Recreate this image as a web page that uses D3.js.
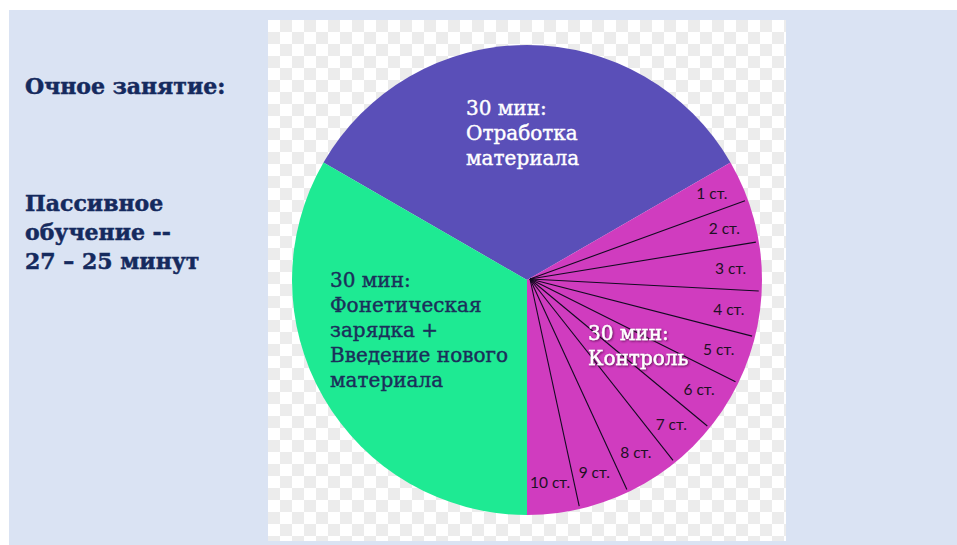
<!DOCTYPE html>
<html><head><meta charset="utf-8">
<script src="https://cdn.jsdelivr.net/npm/d3@7"></script>
<style>html,body{margin:0;padding:0;background:#fff;}svg{display:block;}</style>
</head><body>
<script>
// Data
const slices = ["Отработка материала", "Контроль", "Фонетическая зарядка + Введение нового материала"];
const sliceMinutes = [30, 30, 30];
const sliceColors = ["#5a4fb8", "#d03cbf", "#1eea93"];
const stations = ["1 ст.", "2 ст.", "3 ст.", "4 ст.", "5 ст.", "6 ст.", "7 ст.", "8 ст.", "9 ст.", "10 ст."];
const stationShares = [10, 10.6, 12.1, 11.3, 12, 13, 12, 13.5, 12.5, 13];
const purpleLabel = ["30 мин:", "Отработка", "материала"];
const magentaLabel = ["30 мин:", "Контроль"];
const greenLabel = ["30 мин:", "Фонетическая", "зарядка +", "Введение нового", "материала"];
const leftTitle = ["Очное занятие:"];
const leftText = ["Пассивное", "обучение --", "27 – 25 минут"];

const W = 957, H = 545;
const svg = d3.select("body").append("svg").attr("width", W).attr("height", H);

// background
svg.append("rect").attr("x", 9).attr("y", 10).attr("width", W - 9).attr("height", H - 10).attr("fill", "#dae3f3");

// checker panel
const px0 = 268, py0 = 20, px1 = 786, py1 = 541, cs = 12;
const defs = svg.append("defs");
const pat = defs.append("pattern").attr("id", "chk").attr("patternUnits", "userSpaceOnUse")
  .attr("x", px0).attr("y", py0).attr("width", cs * 2).attr("height", cs * 2);
pat.append("rect").attr("width", cs * 2).attr("height", cs * 2).attr("fill", "#ffffff");
pat.append("rect").attr("x", cs).attr("width", cs).attr("height", cs).attr("fill", "#ececec");
pat.append("rect").attr("y", cs).attr("width", cs).attr("height", cs).attr("fill", "#ececec");
svg.append("rect").attr("x", px0).attr("y", py0).attr("width", px1 - px0).attr("height", py1 - py0).attr("fill", "url(#chk)");

const cx = 527, cy = 280, R = 235;
const g = svg.append("g").attr("transform", `translate(${cx},${cy})`);

const pie = d3.pie().sort(null).value(d => d).startAngle(-Math.PI / 3).endAngle(-Math.PI / 3 + 2 * Math.PI);
const arcs = pie(sliceMinutes);
const arc = d3.arc().innerRadius(0).outerRadius(R);
g.selectAll("path.main").data(arcs).join("path").attr("class", "main")
  .attr("d", arc).attr("fill", (d, i) => sliceColors[i]);

// Left texts
const navy = "#152a5e";
function leftStyle(t) {
  t.attr("font-family", "DejaVu Serif").attr("font-weight", "bold").attr("font-size", 22)
    .attr("fill", navy).attr("stroke", navy).attr("stroke-width", 0.5);
}
svg.append("text").attr("x", 25).attr("y", 94).call(leftStyle).text(leftTitle[0]);
svg.selectAll("text.left").data(leftText).join("text").attr("class", "left")
  .attr("x", 25).attr("y", (d, i) => 211 + i * 29).call(leftStyle).text(d => d);

// Slice labels
function block(lines, x, y0, dy, color, extra) {
  const t = svg.append("text").attr("font-family", "DejaVu Serif").attr("font-size", 20)
    .attr("fill", color).attr("stroke", color).attr("stroke-width", 0.4);
  if (extra) extra(t);
  t.selectAll("tspan").data(lines).join("tspan")
    .attr("x", x).attr("y", (d, i) => y0 + i * dy).text(d => d);
}
block(purpleLabel, 466, 115, 25, "#ffffff");
block(greenLabel, 330, 287, 25, "#1b2f5a");
const shadow = defs.append("filter").attr("id", "sh").attr("x", "-10%").attr("y", "-20%").attr("width", "120%").attr("height", "140%");
shadow.append("feDropShadow").attr("dx", 1).attr("dy", 1).attr("stdDeviation", 0.8).attr("flood-color", "#4a0a40").attr("flood-opacity", 0.8);
block(magentaLabel, 588, 340, 25, "#ffffff", t => t.attr("filter", "url(#sh)"));

// Station sub-slices
const subPie = d3.pie().sort(null).value(d => d)
  .startAngle(arcs[1].startAngle).endAngle(arcs[1].endAngle);
const subArcs = subPie(stationShares);
g.selectAll("line.div").data(subArcs.slice(1)).join("line").attr("class", "div")
  .attr("x1", 3).attr("y1", -1)
  .attr("x2", d => Math.sin(d.startAngle) * (R - 3))
  .attr("y2", d => -Math.cos(d.startAngle) * (R - 3))
  .attr("stroke", "#120a20").attr("stroke-width", 1.1);
const labArc = d3.arc().innerRadius(204).outerRadius(204);
g.selectAll("text.st").data(subArcs).join("text").attr("class", "st")
  .attr("transform", d => `translate(${labArc.centroid(d)})`)
  .attr("text-anchor", "middle").attr("dy", "0.35em")
  .attr("font-family", "Lato, 'Open Sans', sans-serif").attr("font-size", 15.5)
  .attr("fill", "#1e1024").text((d, i) => stations[i]);
</script>
</body></html>
